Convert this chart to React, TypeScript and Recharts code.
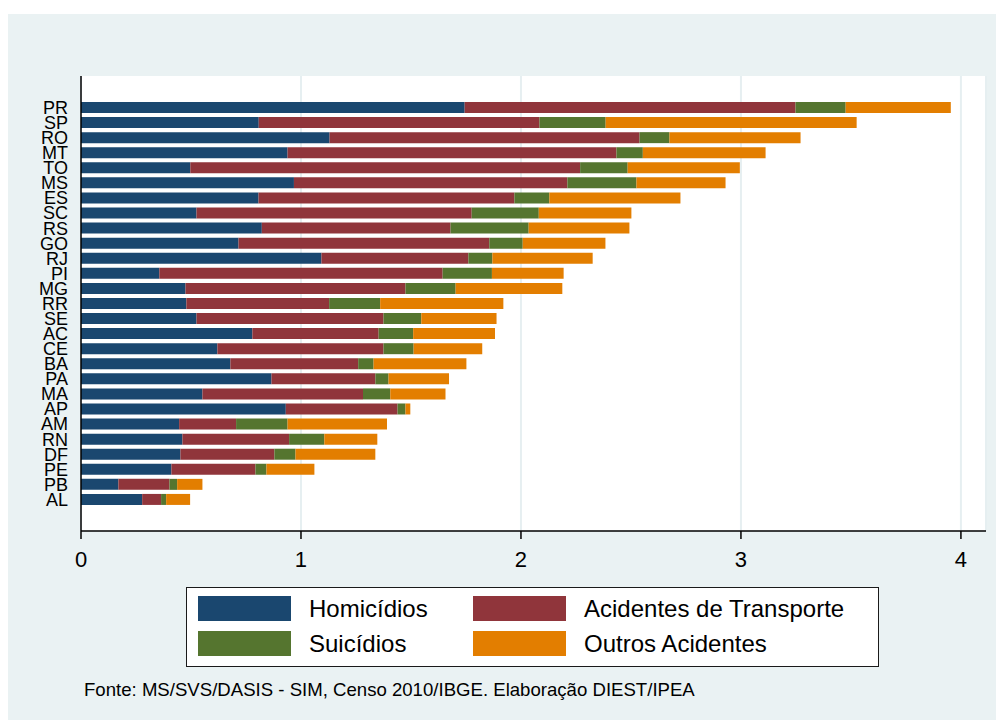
import React from 'react';
import { BarChart, Bar, XAxis, YAxis, CartesianGrid, Legend } from 'recharts';

const states = ['PR','SP','RO','MT','TO','MS','ES','SC','RS','GO','RJ','PI','MG','RR','SE','AC','CE','BA','PA','MA','AP','AM','RN','DF','PE','PB','AL'];
const homicidios = [1.744,0.808,1.130,0.939,0.497,0.968,0.807,0.525,0.822,0.716,1.093,0.356,0.475,0.479,0.525,0.779,0.620,0.679,0.866,0.552,0.931,0.446,0.461,0.452,0.411,0.170,0.278];
const transporte = [1.504,1.276,1.409,1.495,1.772,1.243,1.163,1.251,0.858,1.140,0.668,1.288,1.000,0.649,0.850,0.574,0.755,0.581,0.472,0.730,0.508,0.259,0.485,0.427,0.382,0.232,0.086];
const suicidios = [0.228,0.301,0.136,0.120,0.216,0.314,0.159,0.305,0.355,0.152,0.109,0.224,0.228,0.232,0.172,0.157,0.137,0.070,0.060,0.124,0.036,0.234,0.160,0.096,0.050,0.035,0.023];
const outros = [0.478,1.141,0.596,0.558,0.510,0.405,0.596,0.421,0.458,0.376,0.456,0.326,0.485,0.560,0.342,0.372,0.312,0.422,0.275,0.251,0.022,0.452,0.241,0.363,0.218,0.115,0.109];
const xTicks = [0, 1, 2, 3, 4];

const seriesNames = ['Homicídios', 'Acidentes de Transporte', 'Suicídios', 'Outros Acidentes'];
const seriesKeys = ['hom', 'tra', 'sui', 'out'];
const seriesColors = ['#1A476F', '#90353B', '#55752F', '#E37E00'];

const data = states.map((uf, i) => ({
  uf,
  hom: homicidios[i],
  tra: transporte[i],
  sui: suicidios[i],
  out: outros[i],
}));

const FONT = '"Liberation Sans", Arial, Helvetica, sans-serif';

const renderLegend = () => {
  const items = [0, 1, 2, 3];
  return (
    <div style={{ position: 'relative', width: 693, height: 80, boxSizing: 'border-box', border: '1px solid #1a1a1a', background: '#fff', fontFamily: FONT }}>
      {items.map((i) => {
        const col = i % 2;
        const row = Math.floor(i / 2);
        const left = col === 0 ? 11 : 286;
        const top = row === 0 ? 8 : 43;
        return (
          <React.Fragment key={i}>
            <div style={{ position: 'absolute', left, top, width: 93, height: 25, background: seriesColors[i] }} />
            <div style={{ position: 'absolute', left: left + 111, top: top - 2, height: 29, lineHeight: '29px', fontSize: 24, color: '#000', whiteSpace: 'nowrap' }}>
              {seriesNames[i]}
            </div>
          </React.Fragment>
        );
      })}
    </div>
  );
};

export default function App() {
  return (
    <div style={{ position: 'absolute', left: 0, top: 0, width: 996, height: 720, background: '#fff', overflow: 'hidden' }}>
      <div style={{ position: 'absolute', left: 8, top: 14, width: 988, height: 706, background: '#EAF2F3' }} />
      <div style={{ position: 'absolute', left: 0, top: 0 }}>
        <BarChart
          width={996}
          height={720}
          data={data}
          layout="vertical"
          margin={{ top: 76, right: 10, bottom: 149, left: 8 }}
          style={{ fontFamily: FONT }}
        >
          <CartesianGrid horizontal={false} vertical={true} stroke="#E6EFF1" strokeWidth={2} fill="#ffffff" />
          <XAxis
            type="number"
            domain={[0, 4.114]}
            ticks={xTicks}
            allowDataOverflow
            height={40}
            tickSize={8}
            tickMargin={12}
            axisLine={{ stroke: '#000', strokeWidth: 1.5 }}
            tickLine={{ stroke: '#000', strokeWidth: 1.5 }}
            tick={{ fontSize: 22, fill: '#000', fontFamily: FONT }}
          />
          <YAxis
            type="category"
            dataKey="uf"
            width={73}
            interval={0}
            padding={{ top: 24, bottom: 24 }}
            tickLine={false}
            tickSize={0}
            tickMargin={13}
            axisLine={{ stroke: '#000', strokeWidth: 1.5 }}
            tick={{ fontSize: 18, fill: '#000', fontFamily: FONT }}
          />
          <Legend
            layout="vertical"
            align="center"
            verticalAlign="middle"
            content={renderLegend}
            wrapperStyle={{ position: 'absolute', left: 186, top: 587, width: 693, height: 80 }}
          />
          {seriesKeys.map((k, i) => (
            <Bar key={k} dataKey={k} name={seriesNames[i]} stackId="a" fill={seriesColors[i]} barSize={11} isAnimationActive={false} />
          ))}
        </BarChart>
      </div>
      <div style={{ position: 'absolute', left: 84, top: 679, fontFamily: FONT, fontSize: 18.6, color: '#000', whiteSpace: 'nowrap', lineHeight: '22px' }}>
        Fonte: MS/SVS/DASIS - SIM, Censo 2010/IBGE. Elaboração DIEST/IPEA
      </div>
    </div>
  );
}
